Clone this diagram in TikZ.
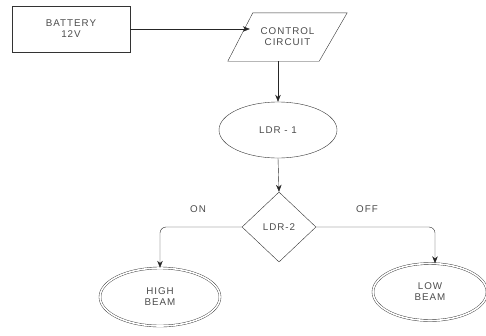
\documentclass[tikz,border=0pt]{standalone}
\usepackage{fontspec}
\setmainfont[LetterSpace=10]{Liberation Sans}
\usetikzlibrary{shapes.geometric,arrows.meta}
\begin{document}
\begin{tikzpicture}[x=1pt, y=-1pt, thin,
  every node/.style={font=\fontsize{9.8}{11}\selectfont, text=black!70, align=center},
  flow/.style={draw=black!85, -{Stealth[length=7pt,width=5.5pt]}},
  blk/.style={draw=black!80, inner sep=0pt}]
  \useasboundingbox (0,0) rectangle (486,335);
  % battery and control circuit
  \node[blk, rectangle, minimum width=118pt, minimum height=46pt] (battery) at (71,29) {BATTERY\\12V};
  \node[inner sep=0pt, minimum width=119pt, minimum height=48pt] (ctrl) at (287.5,37) {CONTROL\\CIRCUIT};
  \draw[black!80] ([xshift=25pt]ctrl.north west) -- (ctrl.north east)
    -- ([xshift=-28pt]ctrl.south east) -- (ctrl.south west) -- cycle;
  % sensors
  \node[blk, ellipse, minimum width=118pt, minimum height=56pt] (ldr1) at (278,130) {LDR - 1};
  \node[blk, diamond, minimum width=74pt, minimum height=70pt] (ldr2) at (279,227) {LDR-2};
  % lamps
  \node[blk, ellipse, double, double distance=1.6pt, minimum width=120pt, minimum height=58pt] (high) at (160,297) {HIGH\\BEAM};
  \node[blk, ellipse, double, double distance=1.6pt, minimum width=114pt, minimum height=57pt] (low) at (430,292) {LOW\\BEAM};
  % branch labels
  \node (on) at (198,209) {ON};
  \node (off) at (367,209) {OFF};
  % connectors
  \draw[flow] (battery.east) -- ([xshift=22pt]battery.east -| ctrl.west);
  \draw[flow] (ldr1.north |- ctrl.south) -- (ldr1.north);
  \draw[flow] (ldr1.south) -- (ldr2.north);
  \draw[flow, rounded corners=6pt] (ldr2.west) -| (high.north);
  \draw[flow, rounded corners=6pt] (ldr2.east) -| ([xshift=5pt]low.north);
\end{tikzpicture}
\end{document}
